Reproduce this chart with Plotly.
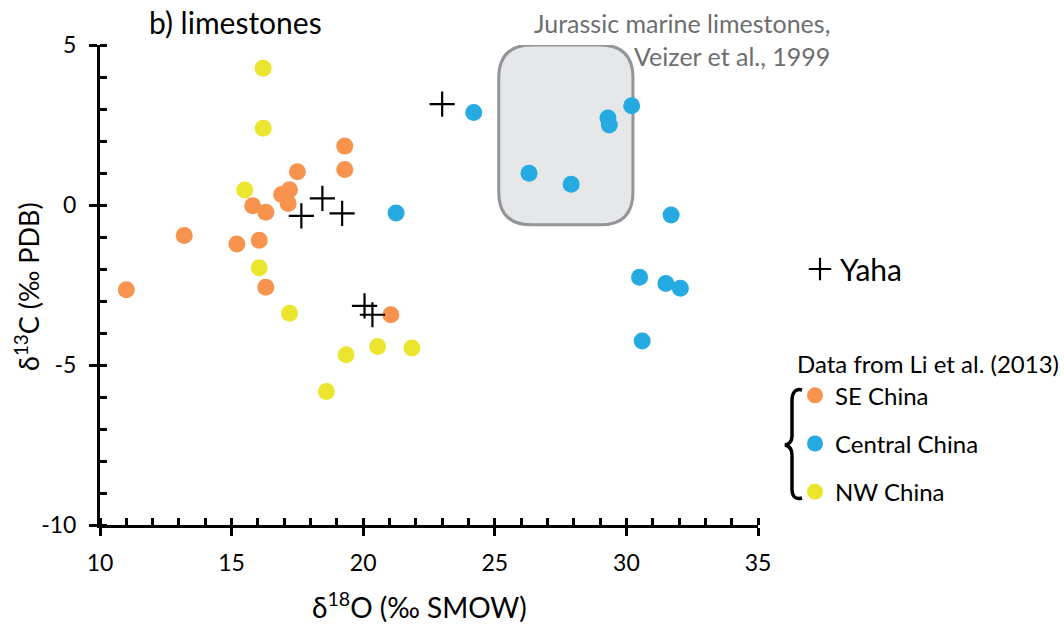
import plotly.graph_objects as go

# values: d18O (x) and d13C (y)
se_x = [11.0, 13.2, 15.2, 15.8, 16.05, 16.3, 16.3, 16.9, 17.15, 17.2, 17.5, 19.3, 19.3, 21.05]
se_y = [-2.65, -0.95, -1.22, -0.02, -1.1, -0.23, -2.57, 0.33, 0.05, 0.48, 1.04, 1.84, 1.11, -3.43]

central_x = [21.25, 24.2, 26.3, 27.9, 29.3, 29.35, 30.2, 30.5, 30.6, 31.5, 31.7, 32.05]
central_y = [-0.25, 2.89, 0.99, 0.65, 2.72, 2.5, 3.1, -2.26, -4.25, -2.45, -0.31, -2.6]

nw_x = [15.5, 16.05, 16.2, 16.2, 17.2, 18.6, 19.35, 20.55, 21.85]
nw_y = [0.47, -1.96, 4.27, 2.4, -3.38, -5.83, -4.68, -4.42, -4.47]

yaha_x = [17.65, 18.45, 19.2, 20.05, 20.35, 23.0]
yaha_y = [-0.34, 0.21, -0.26, -3.15, -3.43, 3.15]

# Veizer et al. (1999) Jurassic marine limestone field
box_x = [25.15, 30.25]
box_y = [-0.62, 5.0]

x_ticks = [10, 15, 20, 25, 30, 35]
y_ticks = [-10, -5, 0, 5]
y_ticklabels = ["-10", "-5", "0", "5"]

FONT = "Lato"
ORANGE = "#F7934C"
BLUE = "#25AAE2"
YELLOW = "#EBE52D"

# plot area in pixels: x 100..758, y 45..525
def px(x):
    return (x - 100) / 658


def py(y):
    return (525 - y) / 480


fig = go.Figure()

series = [
    ("SE China", se_x, se_y, ORANGE),
    ("Central China", central_x, central_y, BLUE),
    ("NW China", nw_x, nw_y, YELLOW),
]
for name, xs, ys, col in series:
    fig.add_trace(go.Scatter(
        x=xs, y=ys, mode="markers", name=name, legendgroup=name,
        marker=dict(size=17, color=col, line=dict(width=0)),
    ))

fig.add_trace(go.Scatter(
    x=yaha_x, y=yaha_y, mode="markers", name="Yaha", legend="legend2",
    marker=dict(symbol="cross-thin", size=18, line=dict(width=2.2, color="black")),
))

# empty trace on overlay axes, used only for the inner half of the major ticks
fig.add_trace(go.Scatter(x=[], y=[], xaxis="x2", yaxis="y2", showlegend=False))

# rounded rectangle
x0, x1 = box_x
y0, y1 = box_y
rx, ry = 1.25, 1.03
path = (
    f"M{x0 + rx},{y1} L{x1 - rx},{y1} Q{x1},{y1} {x1},{y1 - ry} "
    f"L{x1},{y0 + ry} Q{x1},{y0} {x1 - rx},{y0} "
    f"L{x0 + rx},{y0} Q{x0},{y0} {x0},{y0 + ry} "
    f"L{x0},{y1 - ry} Q{x0},{y1} {x0 + rx},{y1} Z"
)
fig.add_shape(type="path", path=path, xref="x", yref="y", layer="below",
              fillcolor="#E6E7E8", line=dict(color="#939598", width=3))

# curly brace next to the legend
brace_px = [
    ("M", 802, 390), ("C", 795, 388), ("", 792, 393), ("", 792, 401),
    ("L", 792, 436), ("C", 792, 441), ("", 790, 444), ("", 785, 445),
    ("C", 790, 446), ("", 792, 449), ("", 792, 455),
    ("L", 792, 489), ("C", 792, 496), ("", 795, 500), ("", 802, 498),
]
brace = " ".join(f"{c}{px(a):.5f},{py(b):.5f}" for c, a, b in brace_px)
fig.add_shape(type="path", path=brace, xref="paper", yref="paper",
              line=dict(color="black", width=3.5))

axis_common = dict(
    showline=True, linecolor="black", linewidth=3, showgrid=False, zeroline=False,
    ticks="outside", ticklen=8, tickwidth=3, tickcolor="black",
    tickfont=dict(family=FONT, size=23, color="black"),
    minor=dict(ticks="inside", ticklen=7, tickwidth=2.5, tickcolor="black", dtick=1),
)
inner_ticks = dict(ticks="inside", ticklen=7, tickwidth=3, tickcolor="black",
                   showticklabels=False, showline=False, showgrid=False, zeroline=False)
fig.update_layout(
    xaxis=dict(range=[10, 35], tickvals=x_ticks, ticklabelstandoff=7, **axis_common),
    yaxis=dict(range=[-10, 5], tickvals=y_ticks, ticktext=y_ticklabels,
               ticklabelstandoff=8, **axis_common),
    xaxis2=dict(range=[10, 35], tickvals=x_ticks, overlaying="x", anchor="y",
                side="bottom", **inner_ticks),
    yaxis2=dict(range=[-10, 5], tickvals=y_ticks, overlaying="y", anchor="x",
                side="left", **inner_ticks),
    width=1064, height=631,
    margin=dict(l=100, r=306, t=45, b=106, autoexpand=False),
    paper_bgcolor="white", plot_bgcolor="white",
    font=dict(family=FONT, color="black"),
    legend=dict(
        x=px(795), y=py(342), xanchor="left", yanchor="top",
        title=dict(text="Data from Li et al. (2013)", font=dict(size=24)),
        font=dict(size=24), tracegroupgap=14, traceorder="grouped",
        bgcolor="rgba(0,0,0,0)", itemsizing="trace",
    ),
    legend2=dict(
        x=px(800), y=py(243), xanchor="left", yanchor="top",
        font=dict(size=30), bgcolor="rgba(0,0,0,0)",
    ),
)

annotations = [
    dict(text="b) limestones", x=px(147), y=py(22), xanchor="left", yanchor="middle",
         font=dict(size=30)),
    dict(text="Jurassic marine limestones,<br>Veizer et al., 1999", x=px(832), y=py(40),
         xanchor="right", yanchor="middle", align="right",
         font=dict(size=25, color="#6D6E71")),
    dict(text="δ<sup>18</sup>O (‰ SMOW)", x=px(419), y=py(605), xanchor="center",
         yanchor="middle", font=dict(size=28)),
    dict(text="δ<sup>13</sup>C (‰ PDB)", x=px(27), y=py(287), xanchor="center",
         yanchor="middle", textangle=-90, font=dict(size=27)),
]
for a in annotations:
    fig.add_annotation(xref="paper", yref="paper", showarrow=False, **a)

fig.write_html("out.html", config=dict(displayModeBar=False),
               post_script="document.body.style.margin='0';")
